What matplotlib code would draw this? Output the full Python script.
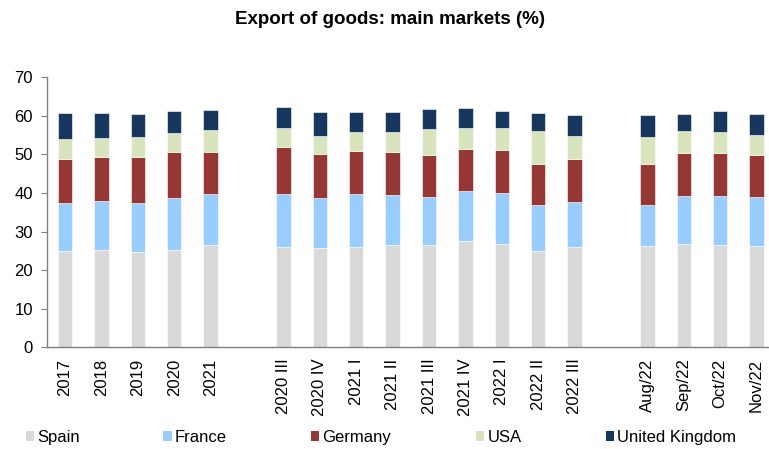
import matplotlib
matplotlib.use("Agg")
import matplotlib.pyplot as plt
from matplotlib.patches import Patch
import numpy as np

plt.rcParams['font.family'] = ['Liberation Sans', 'DejaVu Sans']

# Categories (empty strings are spacer slots between groups)
categories = ["2017", "2018", "2019", "2020", "2021", "",
              "2020 III", "2020 IV", "2021 I", "2021 II", "2021 III", "2021 IV",
              "2022 I", "2022 II", "2022 III", "",
              "Aug/22", "Sep/22", "Oct/22", "Nov/22"]

# Shares of exports by market (%), NaN for spacer slots
spain = [25.0, 25.2, 24.7, 25.2, 26.5, np.nan,
         25.9, 25.7, 26.0, 26.4, 26.5, 27.6, 26.7, 25.0, 26.0, np.nan,
         26.3, 26.7, 26.5, 26.3]
france = [12.5, 12.65, 12.8, 13.6, 13.25, np.nan,
          13.85, 13.1, 13.75, 13.2, 12.5, 12.8, 13.4, 12.0, 11.7, np.nan,
          10.7, 12.4, 12.6, 12.6]
germany = [11.4, 11.45, 11.9, 11.8, 10.85, np.nan,
           12.1, 11.2, 11.05, 11.0, 10.9, 11.1, 11.15, 10.5, 11.0, np.nan,
           10.4, 11.2, 11.3, 11.05]
usa = [5.2, 5.0, 5.1, 5.0, 5.7, np.nan,
       4.95, 4.8, 5.0, 5.3, 6.6, 5.3, 5.7, 8.5, 6.2, np.nan,
       7.0, 5.7, 5.4, 5.15]
uk = [6.7, 6.45, 6.1, 5.7, 5.2, np.nan,
      5.4, 6.1, 5.3, 5.2, 5.2, 5.25, 4.35, 4.75, 5.2, np.nan,
      5.7, 4.5, 5.4, 5.4]

series = [("Spain", spain, "#D9D9D9"),
          ("France", france, "#99CCFF"),
          ("Germany", germany, "#953735"),
          ("USA", usa, "#D7E4BD"),
          ("United Kingdom", uk, "#17375E")]

fig = plt.figure(figsize=(7.69, 4.49), dpi=100)
ax = fig.add_axes([46.8 / 769, 1 - 347.3 / 449, 728 / 769, 270 / 449])

x = np.arange(len(categories))
bottom = np.zeros(len(categories))
for name, vals, color in series:
    v = np.array(vals, dtype=float)
    ax.bar(x, np.nan_to_num(v), width=0.40, bottom=bottom, color=color,
           edgecolor="white", linewidth=0.4, label=name)
    bottom += np.nan_to_num(v)

ax.set_xlim(-0.5, len(categories) - 0.5)
ax.set_ylim(0, 70)
ax.set_yticks(np.arange(0, 71, 10))
ax.set_xticks(x)
ax.set_xticklabels(categories, rotation=90, fontsize=12)
ax.tick_params(axis="x", length=0, pad=8)
ax.tick_params(axis="y", length=4, width=0.8, color="#808080", labelsize=12, pad=6)
for side in ("top", "right"):
    ax.spines[side].set_visible(False)
for side in ("left", "bottom"):
    ax.spines[side].set_color("#808080")
    ax.spines[side].set_linewidth(1.0)

fig.text(390 / 769, 1 - 19 / 449, "Export of goods: main markets (%)",
         ha="center", va="center", fontsize=13.5, fontweight="bold")

# Legend entries placed individually along the bottom
legend_x = [25.7, 163.3, 310.7, 476, 605.7]
for (name, _, color), lx in zip(series, legend_x):
    fig.legend(handles=[Patch(facecolor=color, edgecolor="none")], labels=[name],
               loc="center left", bbox_to_anchor=(lx / 769, 1 - 437.5 / 449),
               frameon=False, fontsize=12, handlelength=0.5, handleheight=0.5,
               handletextpad=0.18, borderpad=0, borderaxespad=0)

fig.savefig("out.png", dpi=100)
